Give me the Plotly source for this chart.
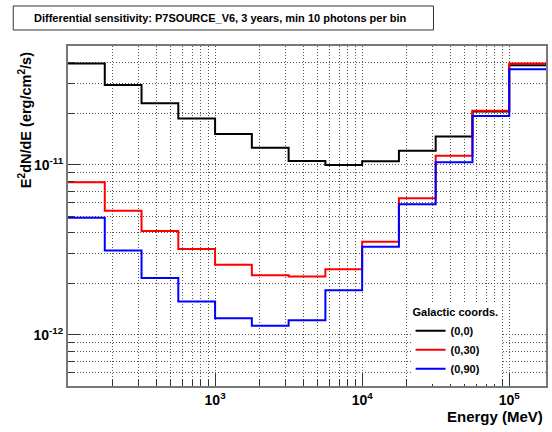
import plotly.graph_objects as go
import math

# Energy bin edges (MeV), 4 bins per decade
bin_edges_mev = [100, 177.83, 316.23, 562.34, 1000, 1778.3, 3162.3, 5623.4,
                 10000, 17783, 31623, 56234, 100000, 177828]

# Differential sensitivity E^2 dN/dE (erg/cm^2/s) per bin
sens_0_0 = [3.95e-11, 2.95e-11, 2.30e-11, 1.87e-11, 1.52e-11, 1.26e-11, 1.054e-11,
            9.97e-12, 1.05e-11, 1.21e-11, 1.47e-11, 2.06e-11, 3.85e-11]
sens_0_30 = [7.9e-12, 5.37e-12, 4.08e-12, 3.20e-12, 2.58e-12, 2.24e-12, 2.20e-12,
             2.43e-12, 3.53e-12, 6.36e-12, 1.13e-11, 2.08e-11, 3.95e-11]
sens_0_90 = [4.89e-12, 3.13e-12, 2.16e-12, 1.57e-12, 1.25e-12, 1.13e-12, 1.22e-12,
             1.83e-12, 3.30e-12, 5.86e-12, 1.035e-11, 1.94e-11, 3.65e-11]

series_names = ["(0,0)", "(0,30)", "(0,90)"]
series_colors = ["#000000", "#ff0000", "#0000ff"]

x_major = [1e3, 1e4, 1e5]
x_major_text = ["10<sup>3</sup>", "10<sup>4</sup>", "10<sup>5</sup>"]
x_minor = [m * d for d in (100, 1000, 10000) for m in range(2, 10)]
y_major = [1e-12, 1e-11]
y_major_text = ["10<sup>-12</sup>", "10<sup>-11</sup>"]
y_minor = [m * 1e-13 for m in range(6, 10)] + [m * 1e-12 for m in range(2, 10)] + \
          [m * 1e-11 for m in range(2, 6)]

FONT = "Liberation Sans, Arial, Helvetica, sans-serif"
GRID = dict(showgrid=True, gridcolor="#555555", gridwidth=1, griddash="1px,2px")

fig = go.Figure()
for name, color, vals in zip(series_names, series_colors, [sens_0_0, sens_0_30, sens_0_90]):
    fig.add_trace(go.Scatter(
        x=bin_edges_mev, y=vals + [vals[-1]], mode="lines", name=name,
        line=dict(color=color, width=2, shape="hv")))

L, R, T, B = 68, 4, 46, 46
W, H = 552, 432
pw, ph = W - L - R, H - T - B

def px(xp):
    return (xp - L) / pw

def py(yp):
    return (H - B - yp) / ph

fig.update_layout(
    width=W, height=H,
    margin=dict(l=L, r=R, t=T, b=B, pad=0),
    paper_bgcolor="white", plot_bgcolor="white",
    font=dict(family=FONT, color="black"),
    showlegend=True,
    legend=dict(
        x=px(412), y=py(302), xanchor="left", yanchor="top",
        bgcolor="white", borderwidth=0,
        font=dict(family=FONT, size=11, weight="bold"),
        title=dict(text="Galactic coords.", font=dict(family=FONT, size=11, weight="bold")),
        itemwidth=30, tracegroupgap=0,
    ),
    xaxis=dict(
        type="log", range=[2, math.log10(bin_edges_mev[-1])],
        tickmode="array", tickvals=x_major, ticktext=x_major_text,
        ticks="inside", ticklen=12, tickwidth=1, tickcolor="#333",
        tickfont=dict(family=FONT, size=14, weight="bold"),
        showline=True, linecolor="#777777", linewidth=2, mirror=True,
        zeroline=False, **GRID,
        minor=dict(tickmode="array", tickvals=x_minor, ticks="inside", ticklen=6,
                   tickcolor="#333", showgrid=True, gridcolor="#555555",
                   gridwidth=1, griddash="1px,2px"),
    ),
    yaxis=dict(
        type="log", range=[math.log10(5e-13), math.log10(5e-11)],
        tickmode="array", tickvals=y_major, ticktext=y_major_text,
        ticks="inside", ticklen=12, tickwidth=1, tickcolor="#333",
        tickfont=dict(family=FONT, size=14, weight="bold"),
        showline=True, linecolor="#777777", linewidth=2, mirror=True,
        zeroline=False, **GRID,
        minor=dict(tickmode="array", tickvals=y_minor, ticks="inside", ticklen=6,
                   tickcolor="#333", showgrid=True, gridcolor="#555555",
                   gridwidth=1, griddash="1px,2px"),
    ),
)

# Title box
fig.add_shape(type="rect", xref="paper", yref="paper",
              x0=px(13), x1=px(435), y0=py(30), y1=py(6),
              line=dict(color="#333333", width=1), fillcolor="white", layer="above")
fig.add_annotation(xref="paper", yref="paper", x=px(32), y=py(18),
                   xanchor="left", yanchor="middle", showarrow=False,
                   text="Differential sensitivity: P7SOURCE_V6, 3 years, min 10 photons per bin",
                   font=dict(family=FONT, size=11, weight="bold"))

# Axis titles
fig.add_annotation(xref="paper", yref="paper", x=px(547), y=py(417),
                   xanchor="right", yanchor="middle", showarrow=False,
                   text="Energy (MeV)", font=dict(family=FONT, size=15, weight="bold"))
fig.add_annotation(xref="paper", yref="paper", x=px(25), y=py(50),
                   xanchor="center", yanchor="top", showarrow=False, textangle=-90,
                   text="E<sup>2</sup>dN/dE (erg/cm<sup>2</sup>/s)",
                   font=dict(family=FONT, size=14.5, weight="bold"))

fig.write_html("out.html", config={"displayModeBar": False},
               post_script="document.body.style.margin='0';document.body.style.overflow='hidden';")
